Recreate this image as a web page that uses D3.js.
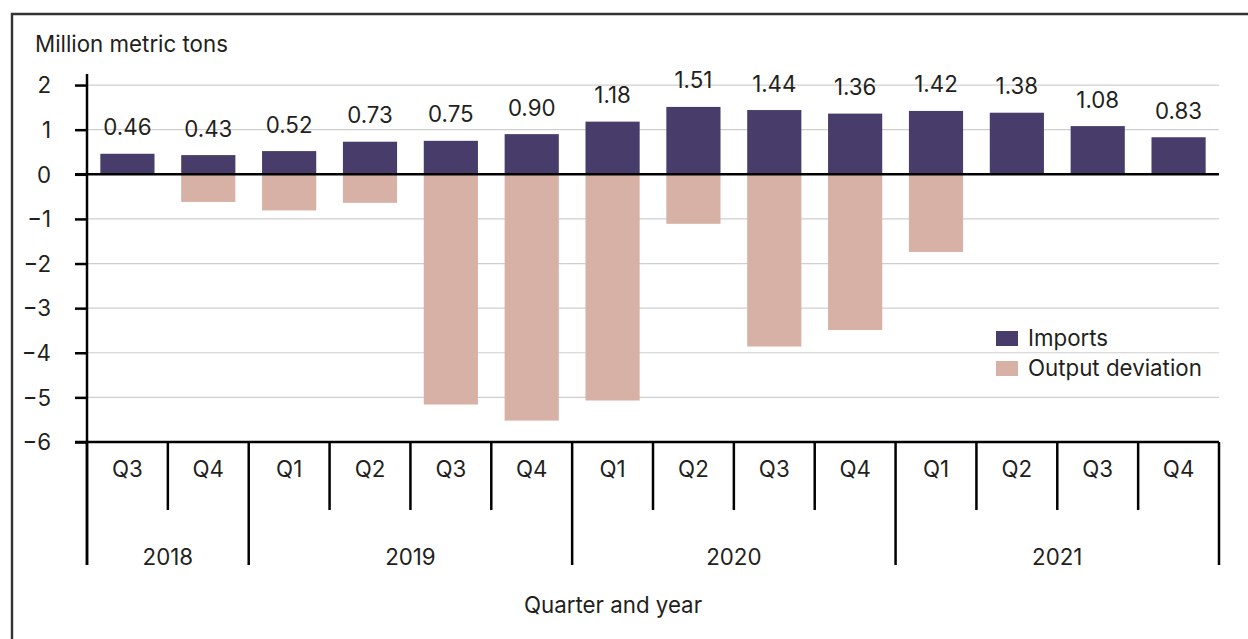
<!DOCTYPE html>
<html>
<head>
<meta charset="utf-8">
<script src="https://cdn.jsdelivr.net/npm/d3@7"></script>
<style>
  html, body { margin: 0; padding: 0; background: #fff; }
  svg { display: block; }
  text { font-family: Inter, "Liberation Sans", Arial, sans-serif; fill: #231f20; }
</style>
</head>
<body>
<svg id="chart" width="1248" height="639"></svg>
<script>
const quarters = ["Q3","Q4","Q1","Q2","Q3","Q4","Q1","Q2","Q3","Q4","Q1","Q2","Q3","Q4"];
const years = ["2018","2018","2019","2019","2019","2019","2020","2020","2020","2020","2021","2021","2021","2021"];
const imports = [0.46,0.43,0.52,0.73,0.75,0.90,1.18,1.51,1.44,1.36,1.42,1.38,1.08,0.83];
const outputDeviation = [0,-0.62,-0.81,-0.64,-5.16,-5.52,-5.07,-1.11,-3.86,-3.49,-1.74,0,0,0];
const yTicks = [2,1,0,-1,-2,-3,-4,-5,-6];
const yTitle = "Million metric tons";
const xTitle = "Quarter and year";
const seriesNames = ["Imports","Output deviation"];
const colors = ["#483c6a","#d8b1a6"];

const svg = d3.select("#chart");
const left = 87, right = 1219, yTop = 73.9, yBottom = 442;
const FS = 22.3;

// frame
svg.append("path")
  .attr("d", "M12,660 L12,14 L1260,14")
  .attr("fill","none").attr("stroke","#333").attr("stroke-width",2.4);

const idx = d3.range(quarters.length);
const x = d3.scaleBand().domain(idx).range([left, right]).paddingInner(0.33).paddingOuter(0.165);
const step = x.step();
const y = d3.scaleLinear().domain([-6, 2.25]).range([yBottom, yTop]);

// gridlines
svg.append("g").selectAll("line").data(yTicks.filter(d => d !== 0 && d !== -6)).join("line")
  .attr("x1", left).attr("x2", right)
  .attr("y1", d => y(d)).attr("y2", d => y(d))
  .attr("stroke","#cfcfcf").attr("stroke-width",1.2);

// y axis
const yAxis = d3.axisLeft(y).tickValues(yTicks).tickSize(12).tickPadding(24).tickFormat(d3.format("d"));
const gy = svg.append("g").attr("transform",`translate(${left},0)`).call(yAxis);
gy.select(".domain").remove();
gy.selectAll(".tick line").attr("stroke","#000").attr("stroke-width",2.5);
gy.selectAll(".tick text").attr("font-size",FS).attr("font-family","Inter, 'Liberation Sans', Arial, sans-serif").attr("fill","#231f20").attr("dy","0.35em");
svg.append("line").attr("x1",left).attr("x2",left).attr("y1",yTop).attr("y2",565)
  .attr("stroke","#000").attr("stroke-width",2.5);

// bars
svg.append("g").selectAll("rect").data(idx).join("rect")
  .attr("x", i => x(i)).attr("width", x.bandwidth())
  .attr("y", i => y(imports[i])).attr("height", i => y(0) - y(imports[i]))
  .attr("fill", colors[0]);
svg.append("g").selectAll("rect").data(idx.filter(i => outputDeviation[i] < 0)).join("rect")
  .attr("x", i => x(i)).attr("width", x.bandwidth())
  .attr("y", y(0)).attr("height", i => y(outputDeviation[i]) - y(0))
  .attr("fill", colors[1]);

// value labels
svg.append("g").selectAll("text").data(idx).join("text")
  .attr("x", i => x(i) + x.bandwidth()/2)
  .attr("y", i => y(imports[i]) - 18.5)
  .attr("text-anchor","middle").attr("font-size",FS)
  .text(i => d3.format(".2f")(imports[i]));

// zero line and bottom line
[0,-6].forEach(v => {
  svg.append("line").attr("x1",left-12).attr("x2",right).attr("y1",y(v)).attr("y2",y(v))
    .attr("stroke","#000").attr("stroke-width",2.5);
});

// category axis
const boundaries = d3.range(quarters.length + 1);
const isYearBoundary = b => b === 0 || b === quarters.length || years[b] !== years[b-1];
svg.append("g").selectAll("line").data(boundaries).join("line")
  .attr("x1", b => left + b*step).attr("x2", b => left + b*step)
  .attr("y1", yBottom).attr("y2", b => isYearBoundary(b) ? 565 : 510)
  .attr("stroke","#000").attr("stroke-width",2.5);

svg.append("g").selectAll("text").data(idx).join("text")
  .attr("x", i => x(i) + x.bandwidth()/2).attr("y", 477)
  .attr("text-anchor","middle").attr("font-size",FS)
  .text(i => quarters[i]);

const yearGroups = d3.groups(idx, i => years[i]);
svg.append("g").selectAll("text").data(yearGroups).join("text")
  .attr("x", g => (left + g[1][0]*step + left + (g[1][g[1].length-1]+1)*step)/2)
  .attr("y", 565).attr("text-anchor","middle").attr("font-size",FS)
  .text(g => g[0]);

// titles
svg.append("text").attr("x",35).attr("y",52).attr("font-size",FS).text(yTitle);
svg.append("text").attr("x",613).attr("y",613).attr("text-anchor","middle").attr("font-size",FS).text(xTitle);

// legend
const lg = svg.append("g");
seriesNames.forEach((s, i) => {
  lg.append("rect").attr("x",996).attr("y",331 + i*30).attr("width",22).attr("height",15).attr("fill",colors[i]);
  lg.append("text").attr("x",1028).attr("y",346 + i*30).attr("font-size",FS).text(s);
});
</script>
</body>
</html>
